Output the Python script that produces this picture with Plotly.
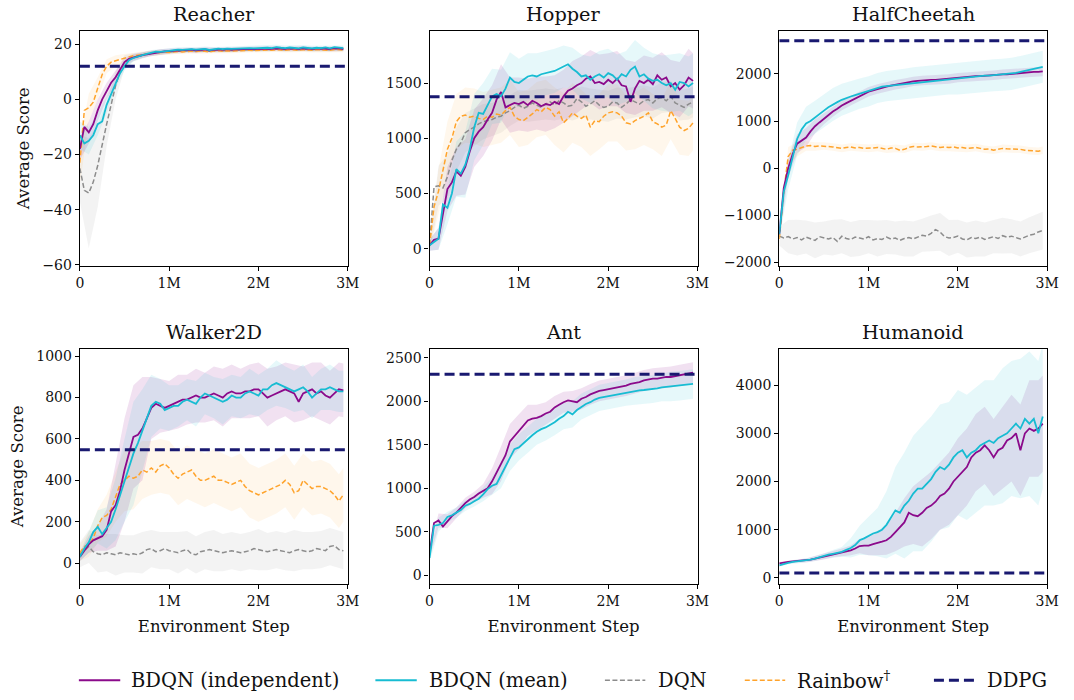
import plotly.graph_objects as go

# ---------------- data (x in millions of environment steps) ----------------
STEPS_M = [0.00, 0.05, 0.10, 0.15, 0.20, 0.25, 0.30, 0.35, 0.40, 0.45,
           0.50, 0.55, 0.60, 0.65, 0.70, 0.75, 0.80, 0.85, 0.90, 0.95,
           1.00, 1.05, 1.10, 1.15, 1.20, 1.25, 1.30, 1.35, 1.40, 1.45,
           1.50, 1.55, 1.60, 1.65, 1.70, 1.75, 1.80, 1.85, 1.90, 1.95,
           2.00, 2.05, 2.10, 2.15, 2.20, 2.25, 2.30, 2.35, 2.40, 2.45,
           2.50, 2.55, 2.60, 2.65, 2.70, 2.75, 2.80, 2.85, 2.90, 2.95]
BAND_STEPS_M = [0.0, 0.1, 0.2, 0.3, 0.4, 0.5, 0.6, 0.7, 0.8, 0.9,
                1.0, 1.1, 1.2, 1.3, 1.4, 1.5, 1.6, 1.7, 1.8, 1.9,
                2.0, 2.1, 2.2, 2.3, 2.4, 2.5, 2.6, 2.7, 2.8, 2.9, 2.95]

X_TICK_VALS = [0, 1, 2, 3]
X_TICK_TEXT = ["0", "1M", "2M", "3M"]

# Reacher
REACHER_IND = [-18, -10, -12, -9, -4, 0, 3, 6, 8, 11,
               13.5, 14.7, 15.2, 15.6, 16, 16.3, 16.6, 17, 17.2, 17.4,
               17.5, 17.6, 17.8, 17.7, 17.9, 18, 17.8, 18, 18.1, 17.8,
               18, 18.1, 18, 18.2, 18, 18.1, 18.2, 18.1, 18.3, 18.2,
               18.3, 18.2, 18.4, 18.3, 18.5, 18.4, 18.3, 18.5, 18.4, 18.3,
               18.5, 18.4, 18.3, 18.5, 18.4, 18.5, 18.3, 18.6, 18.4, 18.3]
REACHER_MEAN = [-13, -16, -15, -13, -9, -8, -2, 2, 6, 9.5,
                12, 14.2, 15, 15.6, 16, 16.5, 16.9, 17.3, 17.2, 17.5,
                17.6, 17.8, 18, 17.9, 18.1, 18.2, 18, 18.2, 18.3, 17.9,
                18.2, 18.4, 18.2, 18.4, 18.3, 18.4, 18.5, 18.4, 18.6, 18.5,
                18.6, 18.5, 18.7, 18.6, 18.9, 18.7, 18.6, 18.8, 18.7, 18.5,
                18.8, 18.6, 18.5, 18.7, 18.6, 18.8, 18.5, 18.9, 18.7, 18.6]
REACHER_DQN = [-25, -33, -34, -30, -24, -16, -9, -2, 5, 10,
               13.5, 14.5, 15.2, 15.6, 16, 16.4, 16.8, 17, 17.1, 17.3,
               17.2, 17.4, 17.5, 17.4, 17.6, 17.7, 17.5, 17.7, 17.6, 17.4,
               17.7, 17.8, 17.6, 17.8, 17.7, 17.8, 17.9, 17.8, 18, 17.9,
               18, 17.9, 18.1, 18, 18.2, 18.1, 18, 18.2, 18.1, 18,
               18.2, 18.1, 18, 18.2, 18.1, 18.2, 18, 18.3, 18.1, 18.1]
REACHER_RAINBOW = [-23, -4, -3, -1, 4, 9, 12, 13.5, 14, 14.5,
                   15, 15.5, 15.8, 16, 16.3, 16.5, 16.7, 16.8, 17, 17.1,
                   17, 17.2, 17.3, 17.2, 17.4, 17.5, 17.3, 17.5, 17.4, 17.2,
                   17.5, 17.6, 17.4, 17.6, 17.5, 17.6, 17.7, 17.6, 17.8, 17.7,
                   17.8, 17.7, 17.9, 17.8, 18, 17.9, 17.8, 18, 17.9, 17.8,
                   18, 17.9, 17.8, 18, 17.9, 18, 17.8, 18.1, 17.9, 17.9]
REACHER_IND_SD = [4, 4, 4, 3, 2.5, 1.5, 1.2, 1, 1, 1,
                  0.9, 0.8, 0.8, 0.9, 0.8, 0.8, 0.9, 0.8, 0.8, 0.8,
                  0.9, 0.8, 0.8, 0.8, 0.9, 0.8, 0.8, 0.8, 0.9, 0.8, 0.8]
REACHER_MEAN_SD = [5, 5, 4, 3, 2, 1.5, 1.2, 1, 1, 1,
                   0.9, 0.9, 0.8, 0.9, 0.9, 0.8, 0.9, 0.9, 0.8, 0.9,
                   0.9, 0.8, 0.9, 0.9, 0.8, 0.9, 0.9, 0.8, 0.9, 0.9, 0.9]
REACHER_DQN_SD = [12, 20, 15, 8, 5, 2.5, 1.5, 1.2, 1, 1,
                  0.8, 0.8, 0.8, 0.8, 0.8, 0.8, 0.8, 0.8, 0.8, 0.8,
                  0.8, 0.8, 0.8, 0.8, 0.8, 0.8, 0.8, 0.8, 0.8, 0.8, 0.8]
REACHER_RAINBOW_SD = [8, 5, 4, 2.5, 2, 1.5, 1.2, 1, 1, 1,
                      0.8, 0.8, 0.8, 0.8, 0.8, 0.8, 0.8, 0.8, 0.8, 0.8,
                      0.8, 0.8, 0.8, 0.8, 0.8, 0.8, 0.8, 0.8, 0.8, 0.8, 0.8]
REACHER_DDPG = 12

# Hopper
HOPPER_IND = [30, 80, 90, 300, 540, 600, 700, 660, 740, 880,
              1000, 1060, 1100, 1170, 1230, 1350, 1420, 1280, 1300, 1320,
              1310, 1330, 1300, 1340, 1320, 1290, 1310, 1300, 1330, 1310,
              1380, 1430, 1450, 1480, 1500, 1540, 1560, 1500, 1510, 1490,
              1530, 1500, 1540, 1480, 1470, 1330, 1450, 1520, 1500, 1530,
              1490, 1570, 1530, 1550, 1470, 1500, 1440, 1480, 1550, 1520]
HOPPER_MEAN = [30, 60, 90, 400, 370, 500, 720, 680, 760, 900,
               1100, 1230, 1220, 1300, 1380, 1400, 1380, 1450, 1550, 1510,
               1500, 1530, 1560, 1570, 1560, 1580, 1590, 1600, 1610, 1630,
               1650, 1670, 1630, 1600, 1560, 1570, 1530, 1560, 1580, 1550,
               1590, 1570, 1530, 1580, 1560, 1620, 1650, 1560, 1580, 1540,
               1520, 1530, 1500, 1480, 1500, 1440, 1510, 1500, 1470, 1500]
HOPPER_DQN = [30, 560, 570, 550, 650, 800, 900, 960, 1050, 1080,
              1100, 1130, 1150, 1160, 1170, 1190, 1200, 1230, 1250, 1280,
              1300, 1270, 1290, 1320, 1300, 1280, 1310, 1330, 1300, 1340,
              1320, 1290, 1300, 1360, 1330, 1290, 1310, 1340, 1300, 1280,
              1290, 1330, 1320, 1280, 1310, 1350, 1330, 1310, 1340, 1350,
              1320, 1360, 1370, 1340, 1380, 1320, 1300, 1280, 1310, 1330]
HOPPER_RAINBOW = [30, 380, 520, 700, 900, 1000, 1150, 1200, 1210, 1190,
                  1200, 1180, 1170, 1200, 1190, 1220, 1210, 1250, 1280, 1200,
                  1170, 1160, 1190, 1220, 1260, 1240, 1280, 1260, 1200, 1240,
                  1140, 1180, 1230, 1200, 1180, 1210, 1100, 1160, 1150, 1200,
                  1230, 1240, 1230, 1200, 1140, 1130, 1160, 1180, 1200, 1230,
                  1150, 1130, 1100, 1120, 1250, 1180, 1100, 1070, 1090, 1140]
HOPPER_IND_SD = [50, 100, 200, 220, 250, 260, 260, 250, 250, 250,
                 240, 240, 240, 250, 240, 240, 250, 240, 240, 250,
                 240, 250, 240, 240, 250, 240, 250, 240, 250, 260, 250]
HOPPER_MEAN_SD = [50, 100, 150, 250, 300, 300, 280, 250, 240, 230,
                  220, 210, 210, 200, 200, 190, 190, 200, 210, 210,
                  220, 230, 230, 240, 240, 250, 250, 260, 260, 270, 270]
HOPPER_DQN_SD = [50, 180, 200, 200, 180, 170, 160, 150, 150, 140,
                 140, 140, 140, 140, 140, 140, 140, 140, 140, 140,
                 140, 140, 140, 140, 140, 140, 140, 140, 140, 140, 140]
HOPPER_RAINBOW_SD = [50, 200, 250, 250, 250, 250, 250, 250, 250, 250,
                     250, 250, 250, 250, 260, 270, 270, 260, 260, 250,
                     260, 260, 250, 260, 260, 250, 260, 260, 250, 250, 250]
HOPPER_DDPG = 1375

# HalfCheetah
CHEETAH_IND = [-1400, -420, 0, 300, 520, 580, 650, 780, 890, 970,
               1050, 1130, 1200, 1260, 1330, 1380, 1430, 1480, 1530, 1580,
               1620, 1650, 1680, 1710, 1730, 1750, 1770, 1780, 1800, 1820,
               1840, 1850, 1860, 1860, 1870, 1870, 1880, 1890, 1890, 1900,
               1920, 1920, 1930, 1940, 1950, 1950, 1960, 1960, 1970, 1980,
               1990, 1990, 2000, 2010, 2020, 2020, 2030, 2040, 2040, 2050]
CHEETAH_MEAN = [-1400, -500, -150, 250, 620, 820, 950, 1000, 1080, 1150,
                1220, 1290, 1350, 1400, 1450, 1490, 1520, 1550, 1580, 1610,
                1630, 1660, 1700, 1730, 1740, 1750, 1760, 1780, 1790, 1800,
                1810, 1820, 1830, 1840, 1850, 1860, 1870, 1880, 1890, 1890,
                1900, 1910, 1920, 1930, 1940, 1950, 1960, 1960, 1970, 1970,
                1980, 1990, 2000, 2020, 2040, 2060, 2080, 2100, 2120, 2150]
CHEETAH_DQN = [-1440, -1480, -1450, -1500, -1470, -1520, -1460, -1490, -1530, -1450,
               -1480, -1500, -1470, -1550, -1440, -1490, -1510, -1460, -1480, -1500,
               -1450, -1520, -1490, -1510, -1460, -1500, -1480, -1530, -1490, -1470,
               -1500, -1460, -1420, -1440, -1380, -1300, -1350, -1450, -1480, -1470,
               -1440, -1500, -1520, -1470, -1490, -1460, -1510, -1480, -1450, -1490,
               -1430, -1460, -1440, -1470, -1500, -1460, -1420, -1400, -1350, -1320]
CHEETAH_RAINBOW = [-1500, -500, 250, 380, 400, 440, 470, 480, 460, 470,
                   470, 460, 450, 430, 420, 440, 450, 430, 440, 420,
                   420, 430, 440, 420, 400, 430, 420, 380, 400, 440,
                   460, 450, 450, 460, 470, 450, 440, 450, 440, 450,
                   430, 440, 420, 430, 440, 420, 400, 410, 380, 400,
                   420, 410, 410, 400, 400, 380, 370, 360, 360, 380]
CHEETAH_IND_SD = [100, 200, 200, 200, 150, 120, 110, 100, 100, 100,
                  100, 100, 100, 100, 100, 100, 100, 100, 100, 100,
                  100, 100, 100, 100, 100, 100, 100, 100, 100, 100, 100]
CHEETAH_MEAN_SD = [100, 300, 350, 350, 350, 350, 350, 340, 330, 320,
                   320, 320, 320, 320, 320, 330, 330, 330, 330, 330,
                   340, 340, 340, 340, 340, 340, 340, 340, 340, 340, 340]
CHEETAH_DQN_SD = [200, 350, 380, 350, 380, 350, 380, 360, 370, 380,
                  350, 380, 360, 350, 380, 370, 350, 380, 400, 380,
                  350, 370, 380, 360, 350, 380, 360, 370, 380, 400, 400]
CHEETAH_RAINBOW_SD = [100, 200, 150, 100, 90, 80, 80, 80, 80, 80,
                      80, 80, 80, 80, 80, 80, 80, 80, 80, 80,
                      80, 80, 80, 80, 80, 80, 80, 80, 80, 80, 80]
CHEETAH_DDPG = 2700

# Walker2D
WALKER_IND = [30, 60, 90, 110, 120, 130, 160, 250, 280, 350,
              450, 530, 610, 620, 650, 700, 750, 770, 760, 750,
              760, 770, 780, 790, 790, 800, 810, 800, 800, 810,
              820, 810, 800, 820, 830, 820, 820, 830, 830, 840,
              840, 820, 800, 810, 820, 830, 840, 830, 820, 780,
              820, 830, 840, 820, 830, 810, 800, 820, 840, 835]
WALKER_MEAN = [30, 70, 100, 150, 175, 140, 170, 200, 260, 330,
               400, 460, 530, 580, 640, 700, 760, 780, 770, 740,
               750, 760, 760, 780, 790, 780, 770, 800, 820, 810,
               800, 790, 780, 790, 810, 800, 800, 820, 830, 820,
               810, 840, 840, 860, 870, 860, 850, 840, 830, 840,
               850, 830, 800, 820, 840, 840, 850, 840, 830, 830]
WALKER_DQN = [40, 60, 80, 55, 45, 40, 50, 45, 40, 50,
              45, 40, 45, 40, 50, 65, 70, 55, 60, 70,
              60, 55, 50, 60, 65, 45, 40, 55, 60, 65,
              60, 55, 50, 55, 60, 55, 50, 55, 60, 70,
              65, 60, 55, 60, 65, 60, 55, 50, 60, 65,
              60, 55, 60, 70, 65, 60, 80, 85, 65, 60]
WALKER_RAINBOW = [50, 80, 90, 120, 180, 220, 230, 260, 320, 380,
                  400, 420, 410, 420, 450, 440, 460, 440, 470, 480,
                  460, 430, 410, 430, 440, 450, 420, 400, 400, 410,
                  420, 400, 400, 390, 380, 390, 400, 370, 350, 340,
                  330, 340, 350, 360, 370, 380, 400, 380, 340, 350,
                  400, 380, 360, 370, 370, 360, 350, 330, 300, 330]
WALKER_IND_SD = [20, 40, 60, 100, 200, 250, 250, 250, 150, 130,
                 120, 130, 120, 130, 120, 130, 140, 130, 120, 130,
                 130, 140, 130, 130, 140, 130, 130, 140, 130, 130, 130]
WALKER_MEAN_SD = [20, 50, 80, 100, 150, 200, 250, 200, 150, 120,
                  110, 100, 100, 110, 100, 100, 110, 100, 100, 110,
                  100, 100, 110, 100, 100, 110, 100, 100, 110, 100, 100]
WALKER_DQN_SD = [60, 80, 90, 90, 100, 90, 90, 100, 90, 90,
                 90, 100, 90, 90, 90, 100, 90, 90, 90, 90,
                 100, 90, 90, 90, 100, 90, 90, 90, 90, 90, 90]
WALKER_RAINBOW_SD = [40, 60, 80, 100, 120, 150, 150, 140, 130, 130,
                     130, 130, 130, 130, 130, 130, 130, 130, 130, 130,
                     130, 130, 130, 130, 130, 130, 130, 130, 130, 130, 130]
WALKER_DDPG = 548

# Ant
ANT_IND = [250, 600, 630, 560, 620, 680, 720, 780, 830, 870,
           900, 940, 970, 1000, 1080, 1180, 1280, 1380, 1540, 1600,
           1650, 1720, 1780, 1800, 1810, 1830, 1860, 1880, 1930, 1960,
           1990, 2010, 2000, 1990, 2030, 2050, 2080, 2100, 2120, 2130,
           2140, 2150, 2160, 2170, 2180, 2200, 2210, 2220, 2240, 2250,
           2260, 2260, 2270, 2280, 2280, 2290, 2300, 2310, 2320, 2330]
ANT_MEAN = [200, 570, 580, 600, 670, 690, 720, 750, 800, 820,
            850, 880, 930, 990, 1030, 1050, 1150, 1250, 1350, 1450,
            1470, 1520, 1560, 1610, 1650, 1680, 1700, 1730, 1760, 1800,
            1830, 1880, 1850, 1900, 1940, 1970, 1990, 2020, 2040, 2050,
            2060, 2070, 2080, 2090, 2100, 2110, 2120, 2125, 2130, 2135,
            2140, 2150, 2160, 2165, 2170, 2175, 2180, 2185, 2190, 2200]
ANT_IND_SD = [50, 80, 80, 60, 60, 60, 80, 150, 200, 200,
              200, 180, 150, 130, 130, 120, 120, 120, 120, 120,
              120, 120, 120, 120, 120, 120, 120, 120, 120, 120, 120]
ANT_MEAN_SD = [50, 80, 60, 60, 60, 60, 80, 100, 150, 150,
               150, 150, 150, 150, 150, 150, 150, 150, 150, 150,
               150, 150, 150, 160, 160, 160, 160, 170, 170, 170, 170]
ANT_DDPG = 2310

# Humanoid
HUMANOID_IND = [300, 320, 330, 340, 350, 350, 360, 380, 400, 420,
                440, 460, 490, 510, 530, 550, 570, 610, 660, 670,
                670, 700, 720, 750, 780, 850, 950, 1050, 1150, 1350,
                1300, 1280, 1350, 1450, 1500, 1580, 1700, 1750, 1850, 2000,
                2100, 2200, 2300, 2500, 2600, 2650, 2750, 2650, 2500, 2650,
                2700, 2850, 2900, 3000, 2650, 3000, 3100, 3050, 3100, 3200]
HUMANOID_MEAN = [260, 290, 310, 330, 340, 350, 360, 380, 400, 430,
                 450, 480, 500, 520, 540, 580, 620, 680, 780, 820,
                 870, 920, 950, 1000, 1100, 1250, 1400, 1350, 1500, 1600,
                 1750, 1850, 1850, 1950, 2050, 2200, 2300, 2250, 2350, 2500,
                 2600, 2650, 2500, 2600, 2650, 2750, 2800, 2850, 2800, 2900,
                 2950, 3000, 3100, 3200, 3100, 3300, 3200, 3300, 3000, 3350]
HUMANOID_IND_SD = [30, 30, 30, 40, 50, 60, 60, 80, 100, 150,
                   200, 250, 300, 400, 500, 600, 700, 700, 700, 750,
                   800, 800, 800, 800, 800, 850, 900, 950, 1000, 1000, 1000]
HUMANOID_MEAN_SD = [30, 30, 40, 40, 50, 60, 80, 100, 200, 300,
                    400, 500, 700, 900, 1100, 1200, 1300, 1300, 1300, 1300,
                    1300, 1300, 1300, 1300, 1300, 1400, 1400, 1450, 1500, 1500, 1500]
HUMANOID_DDPG = 100

# ---------------- styling ----------------
FONT = "DejaVu Serif"
TXT = "#111111"
C_IND = "#8b0a8b"
C_MEAN = "#17bcd2"
C_DQN = "#8c8c8c"
C_RB = "#ffa32b"
C_DDPG = "#191970"
F_IND = "rgba(139,10,139,0.12)"
F_MEAN = "rgba(23,188,210,0.11)"
F_DQN = "rgba(140,140,140,0.10)"
F_RB = "rgba(255,163,43,0.09)"

STYLE = {
    "ind": dict(color=C_IND, width=1.8, dash="solid", fill=F_IND),
    "mean": dict(color=C_MEAN, width=1.8, dash="solid", fill=F_MEAN),
    "dqn": dict(color=C_DQN, width=1.5, dash="5px,2.5px", fill=F_DQN),
    "rb": dict(color=C_RB, width=1.5, dash="5px,2.5px", fill=F_RB),
}

panels = [
    dict(title="Reacher", yr=[-60.4, 24.9], ticks=[-60, -40, -20, 0, 20],
         series=[("dqn", REACHER_DQN, REACHER_DQN_SD), ("rb", REACHER_RAINBOW, REACHER_RAINBOW_SD),
                 ("ind", REACHER_IND, REACHER_IND_SD), ("mean", REACHER_MEAN, REACHER_MEAN_SD)],
         ddpg=REACHER_DDPG),
    dict(title="Hopper", yr=[-157, 1975], ticks=[0, 500, 1000, 1500],
         series=[("dqn", HOPPER_DQN, HOPPER_DQN_SD), ("rb", HOPPER_RAINBOW, HOPPER_RAINBOW_SD),
                 ("ind", HOPPER_IND, HOPPER_IND_SD), ("mean", HOPPER_MEAN, HOPPER_MEAN_SD)],
         ddpg=HOPPER_DDPG),
    dict(title="HalfCheetah", yr=[-2071, 2915], ticks=[-2000, -1000, 0, 1000, 2000],
         series=[("dqn", CHEETAH_DQN, CHEETAH_DQN_SD), ("rb", CHEETAH_RAINBOW, CHEETAH_RAINBOW_SD),
                 ("ind", CHEETAH_IND, CHEETAH_IND_SD), ("mean", CHEETAH_MEAN, CHEETAH_MEAN_SD)],
         ddpg=CHEETAH_DDPG),
    dict(title="Walker2D", yr=[-100, 1035], ticks=[0, 200, 400, 600, 800, 1000],
         series=[("dqn", WALKER_DQN, WALKER_DQN_SD), ("rb", WALKER_RAINBOW, WALKER_RAINBOW_SD),
                 ("ind", WALKER_IND, WALKER_IND_SD), ("mean", WALKER_MEAN, WALKER_MEAN_SD)],
         ddpg=WALKER_DDPG),
    dict(title="Ant", yr=[-98, 2602], ticks=[0, 500, 1000, 1500, 2000, 2500],
         series=[("ind", ANT_IND, ANT_IND_SD), ("mean", ANT_MEAN, ANT_MEAN_SD)],
         ddpg=ANT_DDPG),
    dict(title="Humanoid", yr=[-123, 4751], ticks=[0, 1000, 2000, 3000, 4000],
         series=[("ind", HUMANOID_IND, HUMANOID_IND_SD), ("mean", HUMANOID_MEAN, HUMANOID_MEAN_SD)],
         ddpg=HUMANOID_DDPG),
]

W, H = 1074, 700
COLS_PX = [(77, 349), (432, 704), (787, 1059)]
ROWS_PX = [(30, 268), (352, 589.5)]

idx_of = {round(v, 2): i for i, v in enumerate(STEPS_M)}
band_idx = [idx_of[round(b, 2)] for b in BAND_STEPS_M]

fig = go.Figure()
layout = dict(width=W, height=H, margin=dict(l=0, r=0, t=0, b=0),
              paper_bgcolor="white", plot_bgcolor="white", showlegend=False,
              font=dict(family=FONT, size=14, color=TXT))
annotations = []
shapes = []

for k, p in enumerate(panels):
    r, c = divmod(k, 3)
    n = k + 1
    xa = "x" if n == 1 else f"x{n}"
    ya = "y" if n == 1 else f"y{n}"
    x0, x1 = COLS_PX[c]
    y0, y1 = ROWS_PX[r]
    xdom = [x0 / W, x1 / W]
    ydom = [1 - y1 / H, 1 - y0 / H]
    xaxis = dict(
        domain=xdom, anchor=ya, range=[0, 3], tickvals=X_TICK_VALS, ticktext=X_TICK_TEXT,
        showline=True, linecolor="black", linewidth=1.2, mirror=True, ticks="outside",
        ticklen=4, tickwidth=1, tickcolor="black", showgrid=False, zeroline=False,
        tickfont=dict(size=14, family=FONT, color=TXT),
    )
    if r == 1:
        xaxis["title"] = dict(text="Environment Step", font=dict(size=16.5, family=FONT, color=TXT), standoff=12)
    yaxis = dict(
        domain=ydom, anchor=xa, range=p["yr"], tickvals=p["ticks"],
        showline=True, linecolor="black", linewidth=1.2, mirror=True, ticks="outside",
        ticklen=4, tickwidth=1, tickcolor="black", showgrid=False, zeroline=False,
        tickfont=dict(size=14, family=FONT, color=TXT),
    )
    if c == 0:
        yaxis["title"] = dict(text="Average Score", font=dict(size=16.5, family=FONT, color=TXT), standoff=8)
    layout[f"xaxis{'' if n == 1 else n}"] = xaxis
    layout[f"yaxis{'' if n == 1 else n}"] = yaxis
    annotations.append(dict(text=p["title"], x=(xdom[0] + xdom[1]) / 2, y=ydom[1],
                            xref="paper", yref="paper", xanchor="center", yanchor="bottom",
                            yshift=3, showarrow=False, font=dict(size=19.3, family=FONT, color=TXT)))
    # bands
    for key, mean, sd in p["series"]:
        st = STYLE[key]
        bx = [STEPS_M[i] for i in band_idx]
        lo = [mean[i] - s for i, s in zip(band_idx, sd)]
        hi = [mean[i] + s for i, s in zip(band_idx, sd)]
        fig.add_trace(go.Scatter(x=bx, y=lo, mode="lines", line=dict(width=0, color=st["fill"]),
                                 hoverinfo="skip", xaxis=xa, yaxis=ya))
        fig.add_trace(go.Scatter(x=bx, y=hi, mode="lines", line=dict(width=0, color=st["fill"]),
                                 fill="tonexty", fillcolor=st["fill"], hoverinfo="skip",
                                 xaxis=xa, yaxis=ya))
    # lines
    for key, mean, sd in p["series"]:
        st = STYLE[key]
        fig.add_trace(go.Scatter(x=STEPS_M, y=mean, mode="lines",
                                 line=dict(color=st["color"], width=st["width"], dash=st["dash"]),
                                 xaxis=xa, yaxis=ya))
    fig.add_trace(go.Scatter(x=[0, 3], y=[p["ddpg"], p["ddpg"]], mode="lines",
                             line=dict(color=C_DDPG, width=3, dash="10px,5px"),
                             xaxis=xa, yaxis=ya))

# manual legend
LEG_Y = 1 - 687 / H
legend_items = [
    ("BDQN (independent)", C_IND, 2, "solid", 76, 118, 127),
    ("BDQN (mean)", C_MEAN, 2, "solid", 377, 419, 429),
    ("DQN", C_DQN, 1.5, "5px,2.5px", 610, 651, 662),
    ("Rainbow<sup>†</sup>", C_RB, 1.5, "5px,2.5px", 752, 793, 803),
    ("DDPG", C_DDPG, 3, "10px,5px", 944, 986, 996),
]
for label, col, wdt, dash, lx0, lx1, tx in legend_items:
    shapes.append(dict(type="line", xref="paper", yref="paper", x0=lx0 / W, x1=lx1 / W,
                       y0=LEG_Y, y1=LEG_Y, line=dict(color=col, width=wdt, dash=dash)))
    annotations.append(dict(text=label, x=tx / W, y=LEG_Y, xref="paper", yref="paper",
                            xanchor="left", yanchor="middle", showarrow=False,
                            font=dict(size=19.5, family=FONT, color=TXT)))

layout["annotations"] = annotations
layout["shapes"] = shapes
fig.update_layout(**layout)
fig.write_html("out.html")
